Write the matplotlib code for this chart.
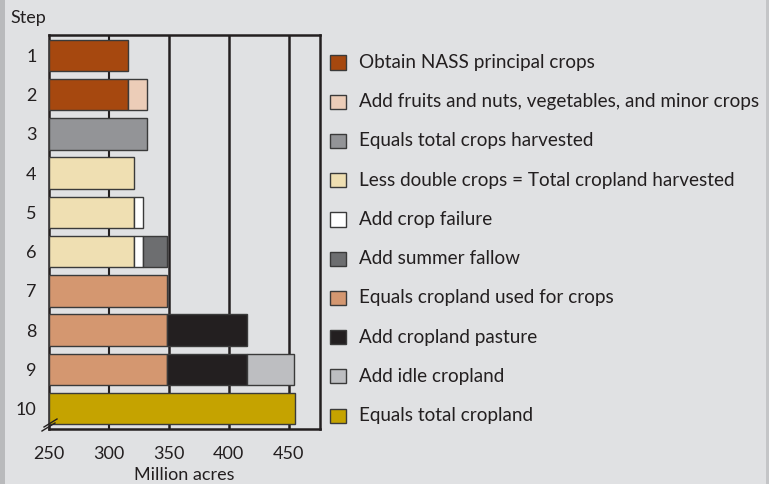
import matplotlib.pyplot as plt
import matplotlib.transforms as mtransforms
from matplotlib.patches import Rectangle

# steps, top to bottom
steps = [1, 2, 3, 4, 5, 6, 7, 8, 9, 10]

# legend entries and colours
labels = [
    "Obtain NASS principal crops",
    "Add fruits and nuts, vegetables, and minor crops",
    "Equals total crops harvested",
    "Less double crops = Total cropland harvested",
    "Add crop failure",
    "Add summer fallow",
    "Equals cropland used for crops",
    "Add cropland pasture",
    "Add idle cropland",
    "Equals total cropland",
]
colors = ["#a6480f", "#eccdb8", "#939497", "#efdfb2", "#ffffff",
          "#6d6e70", "#d49770", "#231f20", "#bdbec1", "#c5a300"]

# million acres
principal = 316
fruits = 16
harvested = 332
cl_harvested = 321
failure = 7
fallow = 20
used = 348
pasture = 67
idle = 39
total = 455

# segments per step: (legend index, amount); first one is the running total
segments = [
    [(0, principal)],
    [(0, principal), (1, fruits)],
    [(2, harvested)],
    [(3, cl_harvested)],
    [(3, cl_harvested), (4, failure)],
    [(3, cl_harvested), (4, failure), (5, fallow)],
    [(6, used)],
    [(6, used), (7, pasture)],
    [(6, used), (7, pasture), (8, idle)],
    [(9, total)],
]

xticks = [250, 300, 350, 400, 450]
base = 250

bg = "#e0e1e3"
ink = "#231f20"
fig = plt.figure(figsize=(7.69, 4.84), dpi=100, facecolor=bg)
plt.rcParams['font.family'] = ['Lato', 'DejaVu Sans']
ax = fig.add_axes([49 / 769, 1 - 429 / 484, (320 - 49) / 769, (429 - 35) / 484])
ax.set_facecolor(bg)

# grid lines
ax.axvline(300, color=ink, lw=1.5, zorder=0)
for v in [350, 400, 450]:
    ax.axvline(v, color=ink, lw=1.8, zorder=3)

for s, segs in zip(steps, segments):
    left = base
    for k, (ci, w) in enumerate(segs):
        width = w - base if k == 0 else w
        ax.barh(s, width, left=left, height=0.8, color=colors[ci],
                edgecolor="#3a3a3a", linewidth=1, zorder=4)
        left += width

ax.set_xlim(250, 476)
ax.set_ylim(10.52, 0.48)
ax.set_yticks(steps)
ax.set_yticklabels([str(s) for s in steps], fontsize=13, color=ink)
ax.set_xticks(xticks)
ax.set_xticklabels([str(v) for v in xticks], fontsize=13, color=ink)
ax.tick_params(length=0, pad=9)
ax.tick_params(axis="x", pad=12)
for sp in ax.spines.values():
    sp.set_color(ink)
    sp.set_linewidth(1.8)
ax.set_xlabel("Million acres", fontsize=13, color=ink, labelpad=4)

# axis break marks (pixel offsets from the bottom-left corner)
W, H = 271, 394
for (x0, y0, x1, y1) in [(-7, -2, 6, 6), (-5, 2, 8, 10)]:
    ax.plot([x0 / W, x1 / W], [y0 / H, y1 / H], transform=ax.transAxes,
            color=ink, lw=1, clip_on=False, zorder=6)

fig.text(10 / 769, 1 - 18 / 484, "Step", fontsize=13, color=ink, va="center")

# legend
trans = mtransforms.blended_transform_factory(fig.transFigure, ax.transData)
for i, (lab, c) in enumerate(zip(labels, colors)):
    y = steps[i] + 0.18
    ax.add_patch(Rectangle((330 / 769, y - 0.18), 16 / 769, 0.36, transform=trans,
                           facecolor=c, edgecolor="#3a3a3a", lw=1, clip_on=False))
    ax.text(359 / 769, y, lab, transform=trans, fontsize=13.6, color=ink,
            va="center", ha="left", clip_on=False)

# frame strips at the edges
fig.patches.append(Rectangle((0, 0), 5 / 769, 1, transform=fig.transFigure,
                             facecolor="#b9babc", edgecolor="none"))
fig.patches.append(Rectangle((766 / 769, 0), 3 / 769, 1, transform=fig.transFigure,
                             facecolor="#c4c5c7", edgecolor="none"))

fig.savefig("out.png", dpi=100, facecolor=bg)
